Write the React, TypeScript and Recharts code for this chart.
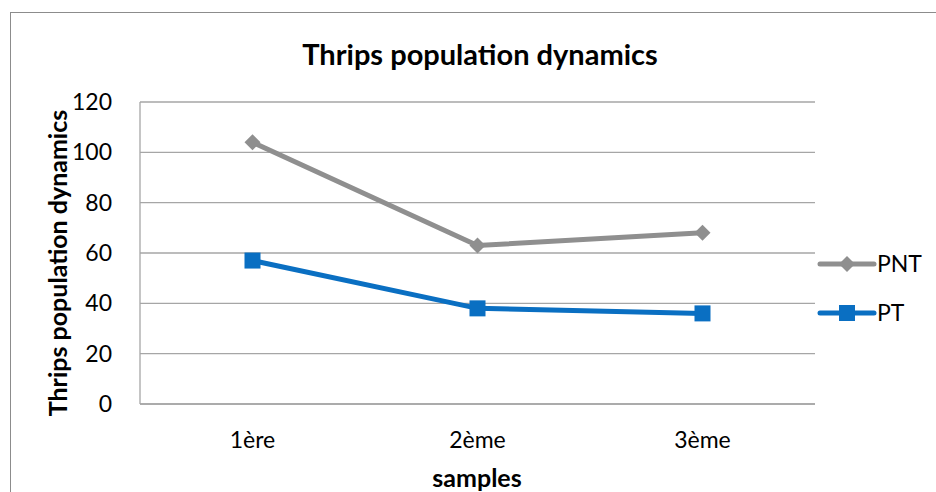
import React from 'react';
import { LineChart, Line, XAxis, YAxis, CartesianGrid } from 'recharts';

const samples = ['1ère', '2ème', '3ème'];
const pnt = [104, 63, 68];
const pt = [57, 38, 36];
const yTicks = [0, 20, 40, 60, 80, 100, 120];

const data = samples.map((s, i) => ({ sample: s, PNT: pnt[i], PT: pt[i] }));

const GRAY = '#8f8f8f';
const BLUE = '#0a6fc2';
const FONT = 'Lato, "Open Sans", sans-serif';

const Diamond = (props: any) => {
  const { cx, cy } = props;
  if (cx == null || cy == null) return null;
  const r = 8;
  return <polygon points={`${cx},${cy - r} ${cx + r},${cy} ${cx},${cy + r} ${cx - r},${cy}`} fill={GRAY} />;
};

const Square = (props: any) => {
  const { cx, cy } = props;
  if (cx == null || cy == null) return null;
  const r = 8;
  return <rect x={cx - r} y={cy - r} width={r * 2} height={r * 2} fill={BLUE} />;
};

const LegendBox = () => (
  <svg width={120} height={110}>
    <line x1={4} y1={20} x2={58} y2={20} stroke={GRAY} strokeWidth={5} strokeLinecap="round" />
    <polygon points="31,12 39,20 31,28 23,20" fill={GRAY} />
    <text x={61} y={28} fontSize={23} fill="#000" fontFamily={FONT}>PNT</text>
    <line x1={4} y1={69} x2={58} y2={69} stroke={BLUE} strokeWidth={5} strokeLinecap="round" />
    <rect x={23} y={61} width={16} height={16} fill={BLUE} />
    <text x={61} y={77} fontSize={23} fill="#000" fontFamily={FONT}>PT</text>
  </svg>
);

export default function App() {
  return (
    <div style={{ position: 'absolute', left: 0, top: 0, width: 936, height: 492, overflow: 'hidden', background: '#fff', fontFamily: FONT }}>
      <div style={{ position: 'absolute', left: 10, top: 12, width: 940, height: 500, border: '1px solid #8c8c8c' }} />
      <div style={{ position: 'absolute', left: 0, top: 37, width: 960, textAlign: 'center', fontSize: 29, fontWeight: 700, color: '#000', lineHeight: 1.2 }}>
        Thrips population dynamics
      </div>
      <div style={{ position: 'absolute', left: 0, top: 462, width: 954, textAlign: 'center', fontSize: 25, fontWeight: 700, color: '#000', lineHeight: 1.2 }}>
        samples
      </div>
      <div style={{ position: 'absolute', left: 57, top: 263, transform: 'translate(-50%, -50%) rotate(-90deg)', whiteSpace: 'nowrap', fontSize: 25, fontWeight: 700, color: '#000' }}>
        Thrips population dynamics
      </div>
      <div style={{ position: 'absolute', left: 0, top: 0 }}>
        <LineChart width={936} height={492} data={data} margin={{ top: 102, right: 121, bottom: 48, left: 0 }}>
          <CartesianGrid vertical={false} stroke="#a6a6a6" strokeWidth={1.3} />
          <XAxis
            dataKey="sample"
            padding={{ left: 112.5, right: 112.5 }}
            tickLine={false}
            axisLine={{ stroke: '#a6a6a6', strokeWidth: 1.3 }}
            tick={{ fill: '#000', fontSize: 23, fontFamily: FONT }}
            tickMargin={22}
            height={40}
          />
          <YAxis
            domain={[0, 120]}
            ticks={yTicks}
            width={140}
            tickLine={false}
            axisLine={{ stroke: '#a6a6a6', strokeWidth: 1.3 }}
            tick={{ fill: '#000', fontSize: 23, fontFamily: FONT }}
            tickMargin={22}
          />
          <Line dataKey="PNT" stroke={GRAY} strokeWidth={5} dot={<Diamond />} activeDot={false} isAnimationActive={false} />
          <Line dataKey="PT" stroke={BLUE} strokeWidth={5} dot={<Square />} activeDot={false} isAnimationActive={false} />
        </LineChart>
      </div>
      <div style={{ position: 'absolute', left: 816, top: 244 }}>
        <LegendBox />
      </div>
    </div>
  );
}
